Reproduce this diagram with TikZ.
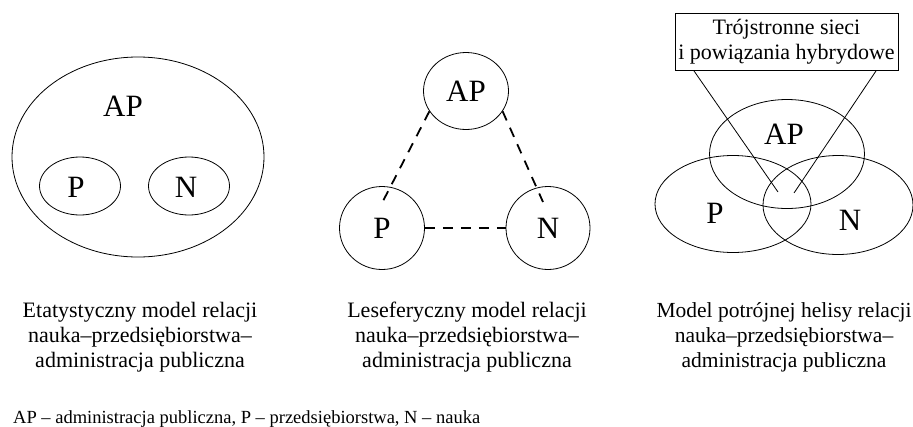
\documentclass[tikz,border=0pt]{standalone}
\usepackage{fontspec}
\setmainfont{Liberation Serif}
\usetikzlibrary{shapes, positioning, calc}

\begin{document}
\begin{tikzpicture}[x=1pt, y=-1pt,
        set/.style={draw, ellipse, line width=0.8pt, inner sep=0pt, font=\fontsize{31}{37}\selectfont},
        setlabel/.style={inner sep=0pt, font=\fontsize{31}{37}\selectfont},
        link/.style={line width=1.8pt, dash pattern=on 10pt off 8pt},
        caption/.style={align=center, font=\fontsize{22}{25}\selectfont}]
        \useasboundingbox (0,0) rectangle (913,426);

        % Left: etatystyczny model
        \node[set, minimum width=252pt, minimum height=200pt] (ap1) at (138,157) {};
        \node[setlabel] (ap1lbl) at (123,106) {AP};
        \node[set, minimum width=81pt, minimum height=58pt] (p1) at (80,186) {};
        \node[setlabel] (p1lbl) at (76,187) {P};
        \node[set, minimum width=81pt, minimum height=58pt] (n1) at (189,186) {};
        \node[setlabel] (n1lbl) at (186,187) {N};
        \node[caption] (cap1) at (140,337) {Etatystyczny model relacji\\nauka–przedsiębiorstwa–\\administracja publiczna};

        % Middle: leseferyczny model
        \node[set, minimum width=85pt, minimum height=77pt] (ap2) at (466,91) {AP};
        \node[set, minimum width=85pt, minimum height=83pt] (p2) at (382,228) {P};
        \node[set, minimum width=84pt, minimum height=83pt] (n2) at (548,228) {N};
        \draw[link] (ap2.209) -- ([yshift=25pt]p2.center);
        \draw[link] (ap2.331) -- ([xshift=-5pt, yshift=26pt]n2.center);
        \draw[link] (p2) -- (n2);
        \node[caption] (cap2) at (467,337) {Leseferyczny model relacji\\nauka–przedsiębiorstwa–\\administracja publiczna};

        % Right: potrójna helisa
        \node[set, minimum width=155pt, minimum height=109pt] (ap3) at (787,154) {};
        \node[set, minimum width=156pt, minimum height=97pt] (p3) at (733,204) {};
        \node[set, minimum width=150pt, minimum height=99pt] (n3) at (838,205) {};
        \node[setlabel] (ap3lbl) at (784,134) {AP};
        \node[setlabel] (p3lbl) at (715,213) {P};
        \node[setlabel] (n3lbl) at (850,220) {N};
        \node[draw, line width=0.8pt, minimum width=221pt, minimum height=57pt, align=center, font=\fontsize{22}{25}\selectfont] (hub) at (786.5,41.5) {Trójstronne sieci\\i powiązania hybrydowe};
        \coordinate (core1) at (778,192);
        \coordinate (core2) at (794,193);
        \draw[line width=0.8pt] ([xshift=19pt]hub.south west) -- (core1);
        \draw[line width=0.8pt] ([xshift=-22pt]hub.south east) -- (core2);
        \node[caption, font=\fontsize{21.5}{25}\selectfont] (cap3) at (784,337) {Model potrójnej helisy relacji\\nauka–przedsiębiorstwa–\\administracja publiczna};

        % Legend
        \node[anchor=base west, inner sep=0pt, font=\fontsize{18.5}{22}\selectfont] (legend) at (13,423) {AP – administracja publiczna, P – przedsiębiorstwa, N – nauka};
    \end{tikzpicture}
\end{document}
